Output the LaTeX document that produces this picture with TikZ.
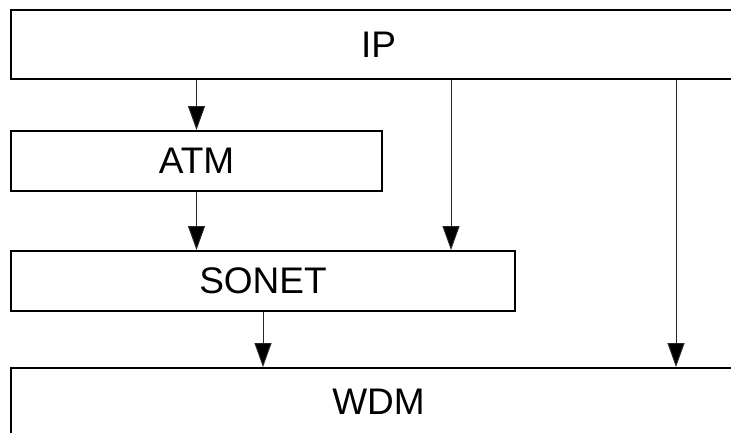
\documentclass[tikz,border=0pt]{standalone}
\usepackage{fontspec}
\setmainfont{Liberation Sans}
\usetikzlibrary{arrows.meta,calc}
\begin{document}
\begin{tikzpicture}[x=1pt,y=-1pt,
  layerbox/.style={draw=black,line width=2pt,rectangle,inner sep=0pt,fill=white,
    font=\fontsize{37}{44}\selectfont},
  arr/.style={draw=black!85,line width=1pt,-{Triangle[width=17pt,length=24pt,fill=black]}}]
\clip (0,0) rectangle (731,432);
\fill[white] (0,0) rectangle (731,432);
\node[layerbox,minimum width=735pt,minimum height=69pt] (ip) at (378.5,44.5) {IP};
\node[layerbox,minimum width=371pt,minimum height=60pt] (atm) at (196.5,161) {ATM};
\node[layerbox,minimum width=504pt,minimum height=60pt] (sonet) at (263,281) {SONET};
\node[layerbox,minimum width=735pt,minimum height=67pt] (wdm) at (378.5,401.5) {WDM};
\draw[arr] (ip.south -| atm.north) -- (atm.north);
\draw[arr] (atm.south) -- (sonet.north -| atm.south);
\draw[arr] (ip.south -| 451,0) -- (sonet.north -| 451,0);
\draw[arr] (sonet.south) -- (wdm.north -| sonet.south);
\draw[arr] (ip.south -| 676,0) -- (wdm.north -| 676,0);
\end{tikzpicture}
\end{document}
